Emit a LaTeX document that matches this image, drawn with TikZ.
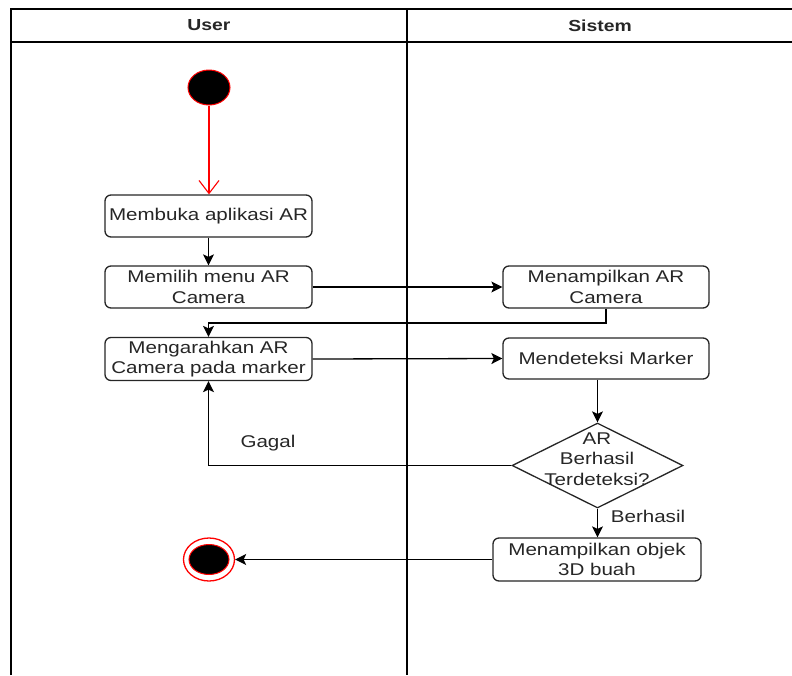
\documentclass[tikz,border=0pt]{standalone}
\usepackage{fontspec}
\setmainfont{Liberation Sans}[FakeStretch=1.21]
\usetikzlibrary{arrows.meta,shapes.geometric,calc}

\tikzset{
  lane/.style={draw=black, line width=1.6pt},
  actbox/.style={draw=black!85, line width=1.3pt, rounded corners=6pt, fill=white,
    minimum width=207pt, minimum height=42pt, inner sep=1pt, align=center,
    font=\fontsize{17pt}{20.4pt}\selectfont, text=black!85},
  flow/.style={draw=black, line width=1.3pt, -{Stealth[length=11pt,width=11pt,inset=2.5pt]}},
  startflow/.style={draw=red, line width=1.1pt, -{Straight Barb[length=13pt,width=20pt,line width=1.1pt]}},
  lbl/.style={font=\fontsize{17pt}{20.4pt}\selectfont, text=black!85, inner sep=0pt},
  hdr/.style={font=\fontsize{16pt}{19pt}\selectfont\bfseries, text=black!85}
}

\begin{document}
\begin{tikzpicture}[x=1pt, y=-1pt]
\useasboundingbox (0,0) rectangle (792,675);

% swimlane frame
\draw[lane] (11,675) -- (11,9) -- (792,9);
\draw[lane] (11,42) -- (792,42);
\draw[lane] (407,9) -- (407,675);
\node[hdr] (hUser) at (209,25.5) {User};
\node[hdr] (hSistem) at (600,25.5) {Sistem};

% initial and final states
\node[ellipse, fill=black, draw=red, line width=1pt, minimum width=42pt, minimum height=35pt, inner sep=0pt] (start) at (209,87.5) {};
\node[ellipse, fill=white, draw=red, line width=1.3pt, minimum width=51pt, minimum height=43pt, inner sep=0pt] (endo) at (209,559.5) {};
\node[ellipse, fill=black, draw=red, line width=1pt, minimum width=40pt, minimum height=30pt, inner sep=0pt] (endi) at (209,559.5) {};

% actions
\node[actbox] (b1) at (208.5,216) {Membuka aplikasi AR};
\node[actbox] (b2) at (208.5,287) {Memilih menu AR\\Camera};
\node[actbox, minimum height=43pt] (b3) at (208.5,359) {Mengarahkan AR\\Camera pada marker};
\node[actbox, minimum width=206pt] (b4) at (606,287) {Menampilkan AR\\Camera};
\node[actbox, minimum width=206pt, minimum height=41pt] (b5) at (606,358.5) {Mendeteksi Marker};
\node[actbox, minimum width=208pt, minimum height=43pt] (b6) at (597,559.5) {Menampilkan objek\\3D buah};

% decision
\node[diamond, draw=black!85, line width=1.3pt, fill=white, minimum width=171pt, minimum height=85pt, inner sep=0pt] (dec) at (597.5,465.5) {};
\node[lbl, align=center] (dect) at (597,459) {AR\\Berhasil\\Terdeteksi?};

% connectors
\draw[startflow] (start) -- (b1.north -| start);
\draw[flow] (b1) -- (b2);
\draw[flow] (b2.east) -- (b4.west);
\coordinate (k1) at (606,323);
\draw[flow] (b4.south) -- (k1) -| (b3.north);
\draw[flow] (b3.east) -- (b5.west);
\draw[flow] (b5.south -| dec.north) -- (dec.north);
\draw[flow] (dec.west) -| (b3.south);
\node[lbl] (gagal) at (268,443) {Gagal};
\draw[flow] (dec.south) -- (b6.north -| dec.south);
\node[lbl] (berhasil) at (648,516) {Berhasil};
\draw[flow] (b6.west) -- (endo.east);
\end{tikzpicture}
\end{document}
